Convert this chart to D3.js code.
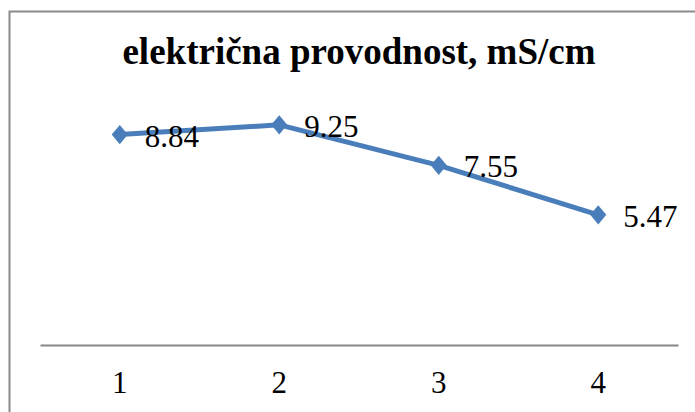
<!DOCTYPE html>
<html>
<head>
<meta charset="utf-8">
<script src="https://cdn.jsdelivr.net/npm/d3@7"></script>
<style>
  body { margin: 0; background: #fff; }
  svg text { font-family: "Liberation Serif", "DejaVu Serif", serif !important; fill: #000; }
</style>
</head>
<body>
<script>
// chart data
const categories = ["1", "2", "3", "4"];
const values = [8.84, 9.25, 7.55, 5.47];
const valueLabels = ["8.84", "9.25", "7.55", "5.47"];
const chartTitle = "električna provodnost, mS/cm";

const width = 695, height = 412;
const plot = {left: 40, right: 678, top: 107, bottom: 345};

let svg = d3.select("body").append("svg")
    .attr("width", width)
    .attr("height", height);

// outer frame (runs off the right and bottom edges)
svg.append("rect")
    .attr("x", 9.5).attr("y", 11.5)
    .attr("width", 720).attr("height", 430)
    .attr("fill", "none")
    .attr("stroke", "#8a8a8a")
    .attr("stroke-width", 2);

svg.append("text")
    .attr("x", 359).attr("y", 64)
    .attr("text-anchor", "middle")
    .style("font-size", "37px")
    .style("font-weight", "bold")
    .text(chartTitle);

let xScale = d3.scaleBand()
    .domain(categories)
    .range([plot.left, plot.right]);

let yScale = d3.scaleLinear()
    .domain([0, 10])
    .range([plot.bottom, plot.top]);

let cx = d => xScale(d) + xScale.bandwidth() / 2;

// category axis
let xAxis = d3.axisBottom(xScale).tickSize(0).tickPadding(26);
let gx = svg.append("g")
    .attr("transform", "translate(0," + plot.bottom + ")")
    .call(xAxis);
gx.attr("font-family", null);
gx.select(".domain").attr("stroke", "#868686").attr("stroke-width", 2);
gx.selectAll("text")
    .style("font-size", "31px")
    .attr("fill", "#000");

let points = categories.map((c, i) => ({cat: c, v: values[i], label: valueLabels[i]}));

let line = d3.line()
    .x(d => cx(d.cat))
    .y(d => yScale(d.v));

svg.append("path")
    .datum(points)
    .attr("d", line)
    .attr("fill", "none")
    .attr("stroke", "#4a7ebb")
    .attr("stroke-width", 5)
    .attr("stroke-linejoin", "round");

// diamond marker, a bit taller than wide like the picture
const wideDiamond = {
    draw(ctx, size) {
        let w = Math.sqrt(size) * 0.6, h = Math.sqrt(size) * 0.72;
        ctx.moveTo(0, -h);
        ctx.lineTo(w, 0);
        ctx.lineTo(0, h);
        ctx.lineTo(-w, 0);
        ctx.closePath();
    }
};

svg.selectAll(".dot")
    .data(points)
    .enter().append("path")
    .attr("class", "dot")
    .attr("d", d3.symbol().type(wideDiamond).size(180))
    .attr("transform", d => "translate(" + cx(d.cat) + "," + yScale(d.v) + ")")
    .attr("fill", "#4a7ebb");

// value labels to the right of each point
svg.selectAll(".lbl")
    .data(points)
    .enter().append("text")
    .attr("class", "lbl")
    .attr("x", d => cx(d.cat) + 25)
    .attr("y", d => yScale(d.v) + 12)
    .style("font-size", "31px")
    .text(d => d.label);
</script>
</body>
</html>
